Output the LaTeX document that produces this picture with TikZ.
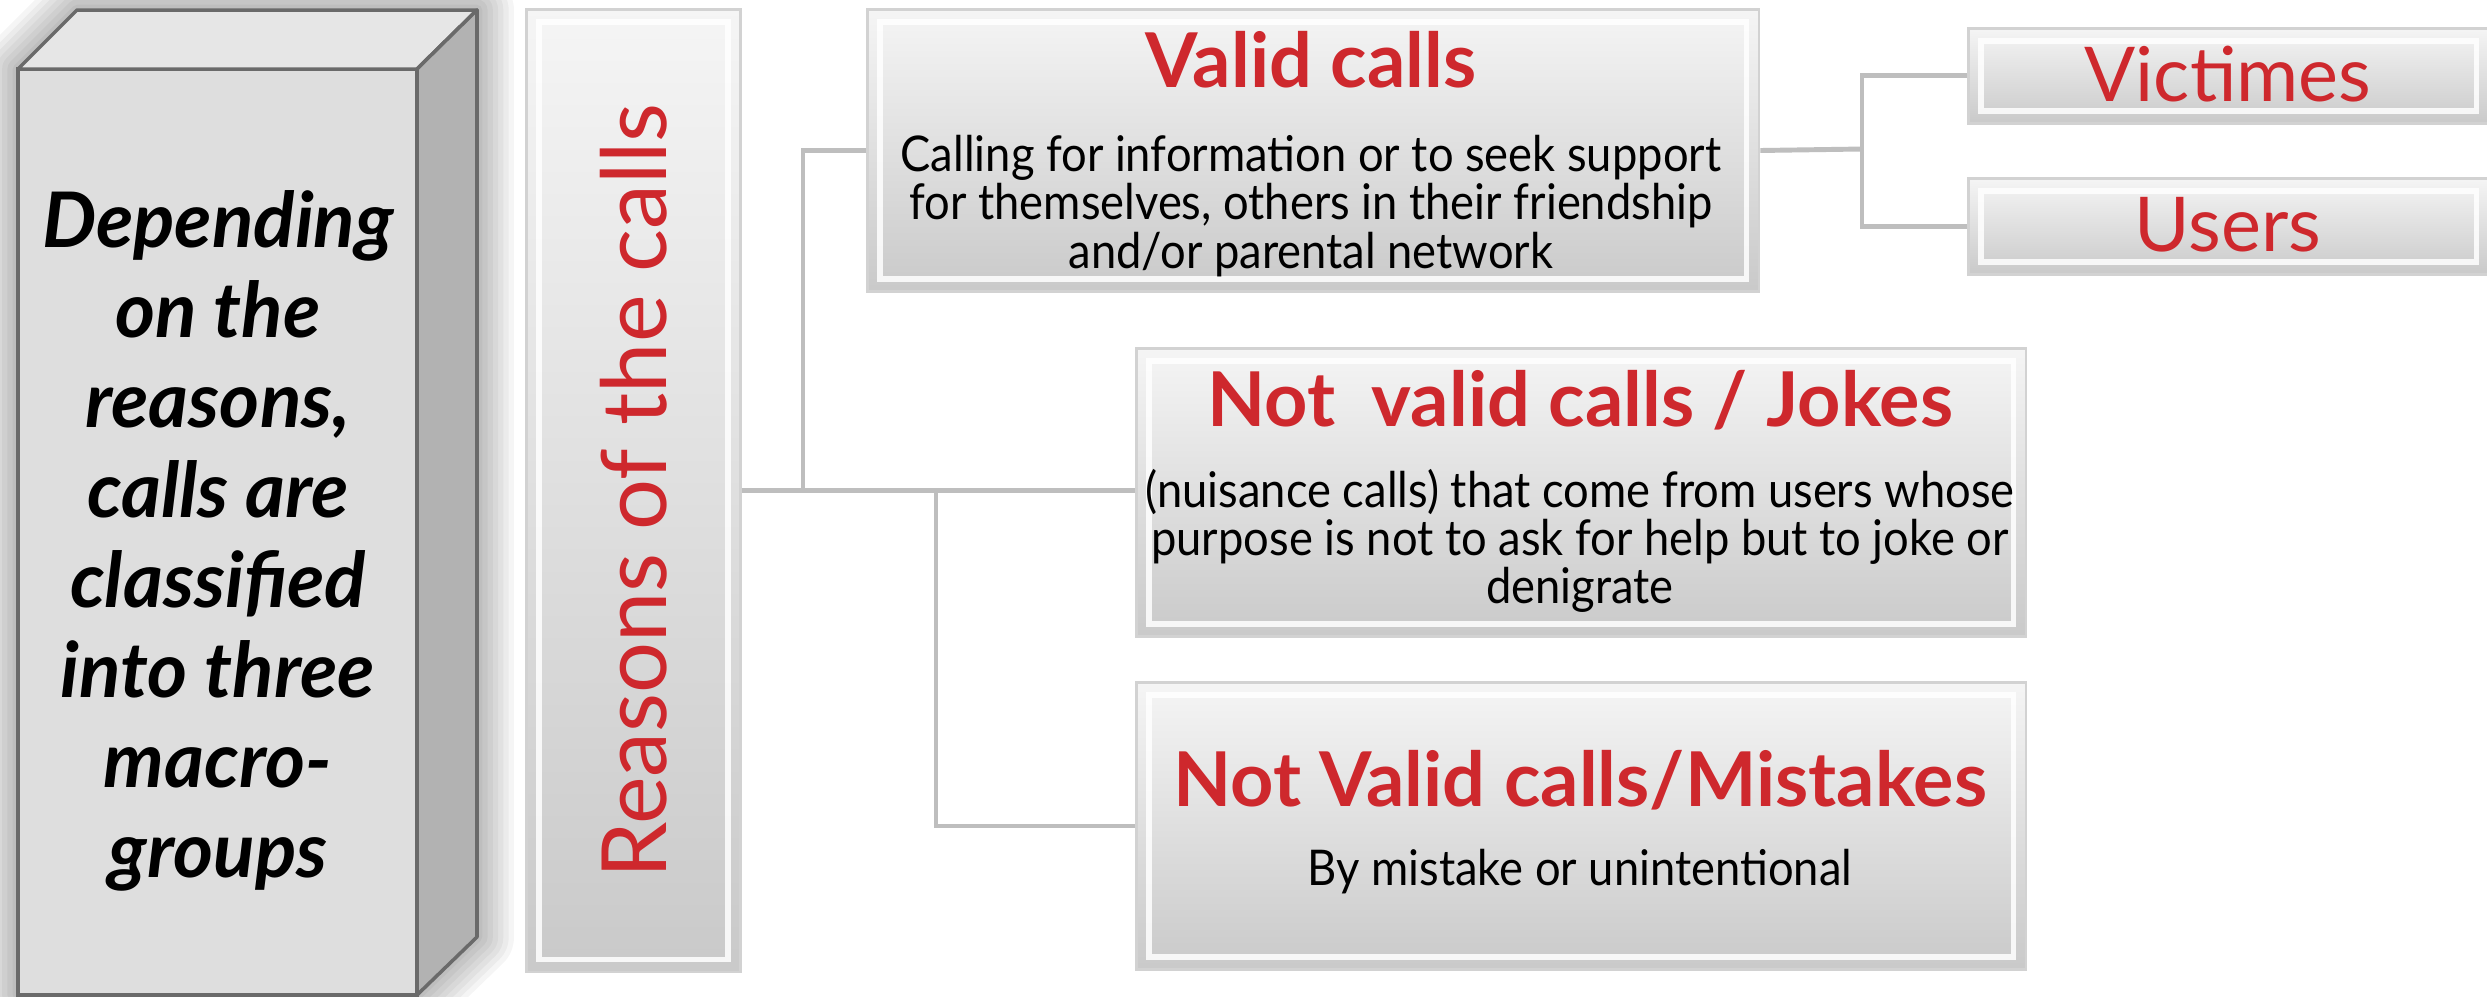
\documentclass[tikz,border=0pt]{standalone}
\usepackage{fontspec}
\setmainfont{Lato}
\newfontfamily\narrowfont[FakeStretch=0.92]{Lato}
\usetikzlibrary{calc}
\definecolor{callred}{RGB}{206,40,45}
\definecolor{edgegray}{RGB}{106,106,106}
\definecolor{linkgray}{RGB}{190,190,190}
\definecolor{frontgray}{RGB}{222,222,222}
\definecolor{topgray}{RGB}{230,230,230}
\definecolor{sidegray}{RGB}{178,178,178}
\tikzset{
  panel/.style={draw=gray!35, line width=0.8pt, top color=gray!8, bottom color=gray!42,
    inner sep=0pt, anchor=north west,
    path picture={\draw[white, line width=1.6pt, opacity=0.85]
      ([shift={(3.5pt,-3.5pt)}]path picture bounding box.north west) rectangle
      ([shift={(-3.5pt,3.5pt)}]path picture bounding box.south east);}},
  headtext/.style={text=callred, font=\fontsize{21.5}{25}\selectfont\bfseries},
  bodytext/.style={align=center, font=\narrowfont\fontsize{14}{13.7}\selectfont},
  link/.style={draw=linkgray, line width=1.4pt},
}

\begin{document}
\begin{tikzpicture}[x=0.01cm, y=-0.01cm]
    \useasboundingbox (0,0) rectangle (2487,996);
    \clip (0,0) rectangle (2487,996);
    \fill[white] (0,0) rectangle (2487,996);

    % cube on the left
    \foreach \w in {3,6,...,21}
        \draw[black, opacity=0.04, line width=\w pt, line join=round]
            (18,69) -- (77,10) -- (477,10) -- (477,937) -- (417,995) -- (18,995) -- cycle;
    \filldraw[fill=frontgray, draw=edgegray, line width=1pt] (18,69) rectangle (417,995);
    \filldraw[fill=topgray, draw=edgegray, line width=1pt, line join=round]
        (18,69) -- (77,10) -- (477,10) -- (417,69) -- cycle;
    \filldraw[fill=sidegray, draw=edgegray, line width=1pt, line join=round]
        (417,69) -- (477,10) -- (477,937) -- (417,995) -- cycle;
    \node[align=center, font=\fontsize{21.8}{25.6}\selectfont\bfseries\itshape] (cubetext) at (218,541)
        {Depending\\on the\\reasons,\\calls are\\classified\\into three\\macro-\\groups};

    % boxes
    \node[panel, minimum width=2.14cm, minimum height=9.62cm] (reasons) at (525,8) {};
    \node[rotate=90, text=callred, font=\fontsize{25.6}{30}\selectfont] (reasonstext) at (reasons.center) {Reasons of the calls};

    \node[panel, minimum width=8.91cm, minimum height=2.82cm] (valid) at (866,8) {};
    \node[headtext] (validhead) at (1311,60) {Valid calls};
    \node[bodytext] (validbody) at (1311,206) {Calling for information or to seek support\\for themselves, others in their friendship\\and/or parental network};

    \node[panel, minimum width=5.20cm, minimum height=0.95cm] (victimes) at (1967,27) {};
    \node[text=callred, font=\fontsize{21.5}{26}\selectfont] (victimestext) at (2228,74) {Victimes};
    \node[panel, minimum width=5.20cm, minimum height=0.96cm] (users) at (1967,177) {};
    \node[text=callred, font=\fontsize{21.5}{26}\selectfont] (userstext) at (2228,225) {Users};

    \node[panel, minimum width=8.89cm, minimum height=2.88cm] (jokes) at (1135,347) {};
    \node[headtext] (jokeshead) at (1580,400) {Not\ \ valid calls / Jokes};
    \node[bodytext] (jokesbody) at (1580,541) {(nuisance calls) that come from users whose\\purpose is not to ask for help but to joke or\\denigrate};

    \node[panel, minimum width=8.89cm, minimum height=2.87cm] (mistakes) at (1135,681) {};
    \node[headtext] (mistakeshead) at (1580,780) {Not Valid calls/Mistakes};
    \node[bodytext] (mistakesbody) at (1580,872) {By mistake or unintentional};

    % connectors
    \coordinate (fork) at (803,489);
    \coordinate (forkb) at (936,489);
    \coordinate (forkc) at (1862,149);
    \draw[link] (reasons.east) -- (reasons.east -| jokes.west);
    \draw[link] (valid.west) -| (fork);
    \draw[link] (mistakes.west) -| (forkb);
    \draw[link] (valid.east) -- (forkc);
    \draw[link] (victimes.west) -| (forkc);
    \draw[link] (users.west) -| (forkc);
\end{tikzpicture}
\end{document}
